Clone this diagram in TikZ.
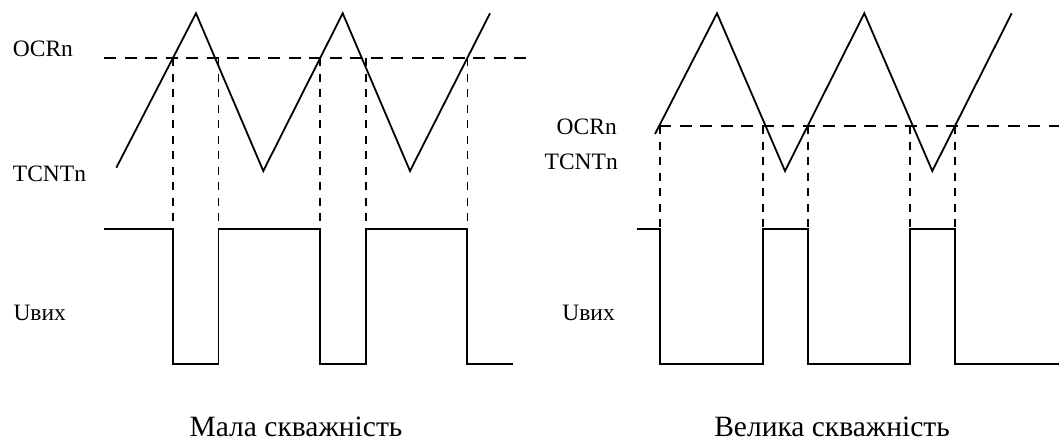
\documentclass[tikz,border=0pt]{standalone}
\usepackage{fontspec}
\setmainfont{Liberation Serif}
\begin{document}
\begin{tikzpicture}[x=1pt,y=-1pt,
  wave/.style={line width=1.8pt,line join=miter},
  level/.style={line width=1.7pt,dash pattern=on 12pt off 8.5pt},
  drop/.style={line width=1.6pt,dash pattern=on 8pt off 7.5pt},
  lbl/.style={inner sep=0pt,font=\fontsize{23.5}{27}\selectfont},
  caption/.style={inner sep=0pt,font=\fontsize{29.5}{33}\selectfont}]
\useasboundingbox (0,0) rectangle (1059,441);
% ---------------- left panel ----------------
\node[lbl,anchor=base west] (ocrL) at (12.7,56.7) {OCRn};
\node[lbl,anchor=base west] (tcntL) at (12.7,181.7) {TCNTn};
\node[lbl,anchor=base west] (uL) at (13.3,320.7) {Uвих};
\node[caption,anchor=base] (capL) at (296,436.5) {Мала скважність};
% triangle
\coordinate (a0) at (116.3,167.7);
\coordinate (a1) at (196,13.3);
\coordinate (a2) at (263.3,171);
\coordinate (a3) at (342.7,13.3);
\coordinate (a4) at (410,171);
\coordinate (a5) at (490,13.3);
\draw[wave] (a0) -- (a1) -- (a2) -- (a3) -- (a4) -- (a5);
% OCR level
\coordinate (lA) at (104.3,58.3);
\coordinate (lB) at (531,58.3);
\draw[level] (lA) -- (lB);
% crossings and output
\foreach \n/\x in {1/172.7,2/218.5,3/320,4/366,5/467.3}{
  \coordinate (cL\n) at (\x,58.3);
  \coordinate (hL\n) at (\x,228.7);
  \coordinate (bL\n) at (\x,364.3);
  \draw[drop] (cL\n) -- (hL\n);
}
\coordinate (sL0) at (104.3,228.7);
\coordinate (eL) at (513.3,364.3);
\draw[wave] (sL0) -- (hL1) -- (bL1) -- (bL2) -- (hL2) -- (hL3) -- (bL3) -- (bL4) -- (hL4) -- (hL5) -- (bL5) -- (eL);
% ---------------- right panel ----------------
\node[lbl,anchor=base east] (ocrR) at (617,135) {OCRn};
\node[lbl,anchor=base east] (tcntR) at (618,169.3) {TCNTn};
\node[lbl,anchor=base east] (uR) at (615,320.7) {Uвих};
\node[caption,anchor=base] (capR) at (832,436.5) {Велика скважність};
\coordinate (b0) at (655,134);
\coordinate (b1) at (717,13.3);
\coordinate (b2) at (785,171);
\coordinate (b3) at (864.3,13.3);
\coordinate (b4) at (932.3,171);
\coordinate (b5) at (1011.7,13.3);
\draw[wave] (b0) -- (b1) -- (b2) -- (b3) -- (b4) -- (b5);
\coordinate (rA) at (659,126);
\coordinate (rB) at (1059,126);
\draw[level] (rA) -- (rB);
\foreach \n/\x in {1/660,2/762.7,3/807.7,4/910,5/955}{
  \coordinate (cR\n) at (\x,126);
  \coordinate (hR\n) at (\x,228.7);
  \coordinate (bR\n) at (\x,364.3);
  \draw[drop] (cR\n) -- (hR\n);
}
\coordinate (sR0) at (637.3,228.7);
\coordinate (eR) at (1059,364.3);
\draw[wave] (sR0) -- (hR1) -- (bR1) -- (bR2) -- (hR2) -- (hR3) -- (bR3) -- (bR4) -- (hR4) -- (hR5) -- (bR5) -- (eR);
\end{tikzpicture}
\end{document}
